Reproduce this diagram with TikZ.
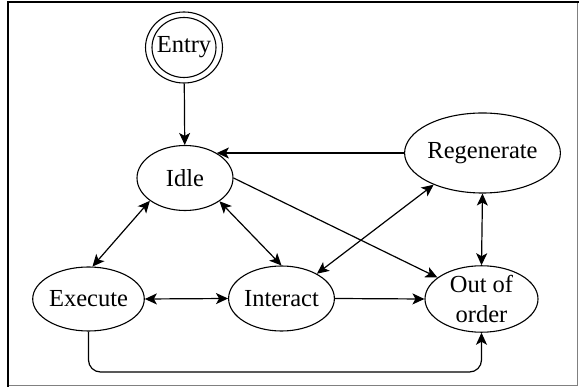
\documentclass[tikz,border=0pt]{standalone}
\usepackage{fontspec}
\setmainfont{Liberation Serif}
\usetikzlibrary{shapes.geometric,arrows.meta}
\begin{document}
\begin{tikzpicture}[x=1pt,y=-1pt,
  st/.style={ellipse,draw,line width=1.1pt,inner sep=0pt,align=center,
    font=\fontsize{24.5}{29.5}\selectfont},
  ln/.style={line width=1.2pt},
  tip/.tip={Stealth[length=12pt,width=11pt,inset=3pt]},
  arr/.style={ln,-{tip}},
  bi/.style={ln,{tip}-{tip}}]
\useasboundingbox (0,0) rectangle (579,387);
% frame
\draw[gray,line width=1pt] (8,386) -- (577,386) -- (577,2);
\draw[black,line width=1.6pt] (8,387) -- (8,2) -- (579,2);
% nodes
\node[st,minimum width=75pt,minimum height=71pt] (entry) at (184,47.5) {Entry};
\draw[line width=1.1pt] (entry.center) ellipse [x radius=32, y radius=30];
\node[st,minimum width=96pt,minimum height=65pt] (idle) at (185,178) {Idle};
\node[st,minimum width=129pt,minimum height=80pt] (regen) at (482.5,153) {Regenerate};
\node[st,minimum width=97pt,minimum height=64pt] (exec) at (88.5,299) {Execute};
\node[st,minimum width=97pt,minimum height=65pt] (inter) at (281.5,298.5) {Interact};
\node[st,minimum width=113pt,minimum height=66pt] (ooo) at (481.5,299) {Out of\\order};
\coordinate (low) at (0,372);
% edges
\draw[arr] (entry) -- (idle);
\draw[arr] (regen.west) -- (idle.38 |- regen.west);
\draw[arr] (idle.east) -- (ooo);
\draw[bi] (idle.213) -- (exec.83);
\draw[bi] (idle.326) -- (inter.north);
\draw[bi] (inter.35) -- (regen.213);
\draw[bi] (exec.east) -- (inter.west);
\draw[arr] (inter.east) -- (ooo.west);
\draw[bi] (regen.south) -- (ooo.north);
\draw[arr,rounded corners=12pt] (exec.south) -- (exec.south |- low) -| (ooo.south);
\end{tikzpicture}
\end{document}
